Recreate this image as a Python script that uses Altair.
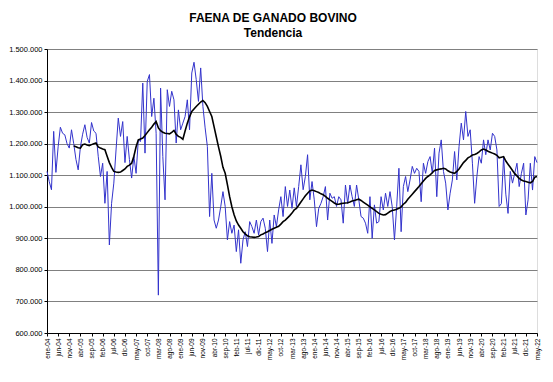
import altair as alt
import pandas as pd

abbr = ["ene", "feb", "mar", "abr", "may", "jun", "jul", "ago", "sep", "oct", "nov", "dic"]
meses = [f"{abbr[m]}-{y % 100:02d}" for y in range(2004, 2023) for m in range(12)][:221]

# Faena mensual (miles de cabezas)
faena = [
    1112, 1080, 1054, 1239, 1109, 1190, 1252, 1233, 1228, 1200, 1186, 1244,  # 2004
    1200, 1150, 1117, 1190, 1230, 1260, 1220, 1202, 1267, 1240, 1233, 1160,  # 2005
    1096, 1138, 1011, 1112, 879, 1011, 1075, 1180, 1281, 1223, 1270, 1140,   # 2006
    1223, 1150, 1091, 1160, 1106, 1212, 1207, 1392, 1170, 1397, 1419, 1286,  # 2007
    1344, 1233, 720, 1376, 1159, 1022, 1371, 1318, 1366, 1339, 1202, 1307,   # 2008
    1244, 1265, 1286, 1339, 1244, 1424, 1458, 1403, 1334, 1440, 1318, 1250,  # 2009
    1191, 969, 1106, 958, 932, 958, 1000, 1048, 1001, 895, 953, 916,         # 2010
    942, 858, 927, 821, 895, 921, 874, 953, 937, 916, 958, 911,              # 2011
    953, 964, 932, 858, 958, 884, 974, 937, 990, 1032, 969, 1064,            # 2012
    1001, 1053, 995, 1060, 1001, 1064, 1133, 1054, 1096, 1165, 1022, 1080,   # 2013
    1022, 937, 995, 1011, 1032, 1064, 958, 1043, 1027, 1032, 1001, 1032,     # 2014
    1022, 948, 1069, 1010, 1069, 1032, 1001, 1069, 1022, 969, 964, 948,      # 2015
    916, 1032, 900, 1006, 948, 953, 1032, 990, 1043, 1001, 1048, 1000,       # 2016
    895, 1001, 1122, 921, 1064, 1096, 1048, 1085, 1128, 1106, 1122, 1112,    # 2017
    1016, 1138, 1106, 1143, 1159, 1106, 1186, 1032, 1170, 1212, 1112, 1075,  # 2018
    990, 1043, 1085, 1175, 1085, 1191, 1265, 1212, 1302, 1223, 1244, 1138,   # 2019
    1011, 1096, 1159, 1138, 1212, 1165, 1212, 1180, 1233, 1223, 1180, 1001,  # 2020
    1010, 1159, 1040, 979, 1112, 1075, 1106, 1138, 1064, 1106, 1138, 974,    # 2021
    1022, 1138, 1053, 1159, 1140,                                            # 2022
]

# Tendencia (miles de cabezas)
tendencia = [None] * 12 + [
    1193, 1190, 1187, 1186, 1197, 1199, 1196, 1194, 1197, 1200, 1202, 1190,  # 2005
    1186, 1183, 1181, 1160, 1140, 1125, 1112, 1110, 1109, 1110, 1115, 1120,  # 2006
    1128, 1132, 1138, 1160, 1190, 1212, 1215, 1218, 1226, 1235, 1244, 1252,  # 2007
    1262, 1270, 1250, 1241, 1236, 1233, 1232, 1231, 1236, 1242, 1230, 1223,  # 2008
    1220, 1214, 1240, 1265, 1285, 1302, 1310, 1318, 1325, 1332, 1337, 1330,  # 2009
    1318, 1302, 1286, 1254, 1222, 1190, 1160, 1125, 1106, 1070, 1032, 1000,  # 2010
    975, 955, 942, 932, 921, 914, 908, 905, 904, 903, 904, 906,              # 2011
    911, 914, 918, 921, 925, 929, 932, 935, 938, 945, 953, 958,              # 2012
    965, 972, 980, 990, 995, 1005, 1015, 1025, 1035, 1043, 1050, 1053,       # 2013
    1051, 1048, 1045, 1041, 1038, 1033, 1027, 1022, 1017, 1012, 1008, 1008,  # 2014
    1010, 1011, 1012, 1013, 1015, 1018, 1020, 1022, 1024, 1020, 1015, 1010,  # 2015
    1005, 1000, 995, 990, 985, 979, 976, 974, 975, 980, 985, 988,            # 2016
    990, 992, 995, 1000, 1008, 1014, 1024, 1032, 1040, 1048, 1056, 1064,     # 2017
    1073, 1082, 1090, 1096, 1101, 1108, 1115, 1117, 1119, 1120, 1122, 1120,  # 2018
    1114, 1110, 1108, 1106, 1112, 1120, 1130, 1140, 1147, 1155, 1159, 1164,  # 2019
    1166, 1169, 1174, 1180, 1183, 1180, 1176, 1173, 1170, 1167, 1163, 1155,  # 2020
    1157, 1159, 1145, 1135, 1125, 1115, 1105, 1098, 1090, 1085, 1082, 1080,  # 2021
    1078, 1076, 1080, 1094, 1096,                                            # 2022
]

etiquetas_x = meses[::5]
valores_y = list(range(600000, 1500001, 100000))

df = pd.DataFrame({
    "mes": meses,
    "faena": [v * 1000 for v in faena],
    "tendencia": [None if v is None else v * 1000 for v in tendencia],
})

FONT = "Liberation Sans"

x_enc = alt.X(
    "mes:N",
    sort=meses,
    scale=alt.Scale(type="point", padding=0),
    axis=alt.Axis(
        values=etiquetas_x, title=None, labelAngle=270, labelFontSize=6.5,
        labelFont=FONT, labelColor="#000000", labelPadding=2,
        domainColor="#000000", tickColor="#000000", tickSize=3, grid=False,
        labelAlign="right", labelBaseline="middle",
    ),
)
y_scale = alt.Scale(domain=[600000, 1500000], nice=False, zero=False)
y_axis = alt.Axis(
    values=valores_y, title=None, labelFontSize=7.5, labelFont=FONT,
    labelColor="#000000", labelPadding=2, tickSize=3, tickColor="#000000",
    domainColor="#000000", gridColor="#808080", gridWidth=1,
    labelExpr="replace(replace(format(datum.value, ','), ',', '.'), ',', '.')",
)

base = alt.Chart(df)
linea = base.mark_line(color="#3333CC", strokeWidth=1).encode(
    x=x_enc, y=alt.Y("faena:Q", scale=y_scale, axis=y_axis)
)
trend = base.mark_line(color="#000000", strokeWidth=1.6).encode(
    x=x_enc, y=alt.Y("tendencia:Q", scale=y_scale, axis=y_axis)
)

chart = alt.layer(linea, trend).properties(
    width=490, height=284,
    padding={"left": 39, "top": 41, "right": 8, "bottom": 40},
    autosize=alt.AutoSizeParams(type="none"),
    title=alt.Title(
        "FAENA DE GANADO BOVINO", subtitle="Tendencia",
        font=FONT, fontSize=12, fontWeight="bold", color="#000000",
        subtitleFont=FONT, subtitleFontSize=12, subtitleFontWeight="bold",
        subtitleColor="#000000", subtitlePadding=3, anchor="middle",
        dx=-19, offset=5,
    ),
).configure_view(stroke="#808080", strokeWidth=1).configure(background="#ffffff")

chart.save("out.html", embed_options={"renderer": "svg", "actions": False})
